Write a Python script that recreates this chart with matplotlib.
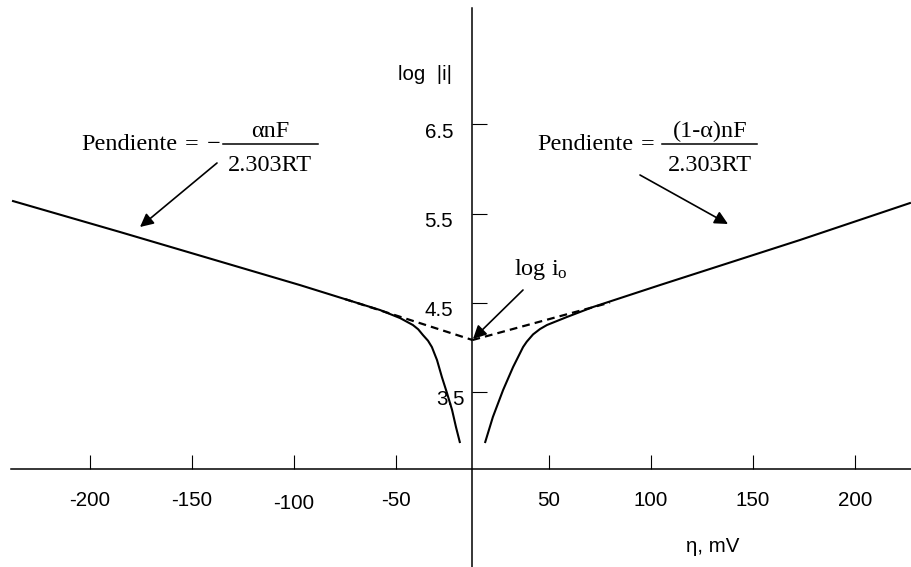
"""Tafel plot: log|i| vs overpotential, with Tafel extrapolations to log i0."""

import numpy as np
import matplotlib

matplotlib.use("Agg")
import matplotlib.pyplot as plt
import matplotlib.transforms as mtransforms

# --- data (x in drawing mV, y axis at 0) ------------------------------------
cath_eta = [-225.7, -172.8, -84.6, -45.3, -35.5, -29.2, -26.6, -24.3, -21.8,
            -19.9, -18.7, -17.4, -15.0, -12.5, -10.0, -8.1, -6.1]
cath_logi = [5.643, 5.293, 4.698, 4.418, 4.328, 4.250, 4.202, 4.138, 4.074,
             4.003, 3.933, 3.858, 3.667, 3.488, 3.297, 3.107, 2.927]

anod_eta = [6.1, 10.0, 15.0, 19.9, 24.8, 26.6, 29.7, 33.1, 36.5, 46.3, 59.1,
            91.9, 160.5, 214.9]
anod_logi = [2.927, 3.219, 3.521, 3.779, 4.003, 4.063, 4.145, 4.205, 4.250,
             4.340, 4.452, 4.698, 5.203, 5.621]

# Tafel extrapolations meeting at log i0
cath_tafel_eta = [-62.5, 0.0]
cath_tafel_logi = [4.541, 4.082]
anod_tafel_eta = [0.0, 67.4]
anod_tafel_logi = [4.082, 4.502]

x_tick_values = [-200, -150, -100, -50, 50, 100, 150, 200]
x_tick_labels = ["-200", "-150", "-100", "-50", "50", "100", "150", "200"]
y_tick_values = [3.5, 4.5, 5.5, 6.5]
y_tick_labels = ["3.5", "4.5", "5.5", "6.5"]

# --- layout ---------------------------------------------------------------
W, H = 911, 567
AXIS_GAP = 12.5      # the drawing leaves a gap around eta = 0
X_AXIS_Y = 2.636     # log|i| level where the eta axis is drawn
SANS = "Liberation Sans"
SERIF = "Liberation Serif"

plt.rcParams.update({
    "mathtext.fontset": "custom",
    "mathtext.rm": SERIF,
    "mathtext.it": SERIF + ":italic",
})


def fpx(x, y):
    """Pixel position in the reference -> figure fraction."""
    return x / W, 1 - y / H


fig = plt.figure(figsize=(W / 100, H / 100), dpi=100)
ax = fig.add_axes([0, 0, 1, 1])
ax.set_xlim(-231.6, 214.95)
ax.set_ylim(1.537, 7.894)

line_kw = dict(color="black", lw=1.5, solid_capstyle="butt",
               solid_joinstyle="round")
ax.plot(cath_eta, cath_logi, **line_kw, zorder=3)
ax.plot(anod_eta, anod_logi, **line_kw, zorder=3)
ax.plot(cath_tafel_eta, cath_tafel_logi, color="black", lw=1.6,
        ls=(0, (3.5, 2.3)), zorder=2)
ax.plot(anod_tafel_eta, anod_tafel_logi, color="black", lw=1.6,
        ls=(0, (3.5, 2.3)), zorder=2)

# axes crossing in the middle
for side in ("top", "right"):
    ax.spines[side].set_visible(False)
ax.spines["left"].set_position(("data", 0))
ax.spines["bottom"].set_position(("data", X_AXIS_Y))
ax.spines["left"].set_bounds(1.537, 7.804)
ax.spines["bottom"].set_bounds(-226.2, 214.95)
for side in ("left", "bottom"):
    ax.spines[side].set_linewidth(1.1)

xpos = [v - np.sign(v) * AXIS_GAP for v in x_tick_values]
ax.set_xticks(xpos)
ax.set_xticklabels(x_tick_labels)
ax.set_yticks(y_tick_values)
ax.set_yticklabels(y_tick_labels)
ax.tick_params(axis="x", direction="in", length=10, width=0.8, pad=15.5,
               labelsize=14.8)
ax.tick_params(axis="y", direction="in", length=11, width=0.8, pad=14,
               labelsize=14.8)
for lab in ax.get_xticklabels() + ax.get_yticklabels():
    lab.set_fontfamily(SANS)

# y labels sit a little below their ticks; "3.5" is shifted right
for lab in ax.get_yticklabels():
    dx = 12 if lab.get_text() == "3.5" else 0
    lab.set_transform(lab.get_transform() + mtransforms.ScaledTranslation(
        dx / 100, -6 / 100, fig.dpi_scale_trans))
for lab in ax.get_xticklabels():
    if lab.get_text() == "-100":
        lab.set_transform(lab.get_transform() + mtransforms.ScaledTranslation(
            0, -3 / 100, fig.dpi_scale_trans))

# axis titles
fig.text(*fpx(398, 80), "log  |i|", family=SANS, fontsize=14.8,
         ha="left", va="baseline")
fig.text(*fpx(713, 546), "η, mV", family=SANS, fontsize=14.8,
         ha="center", va="center")

# slope annotations
fs = 17.5
fig.text(*fpx(81, 150), "Pendiente", family=SERIF, fontsize=fs, va="baseline")
fig.text(*fpx(191.5, 150), "=", family=SERIF, fontsize=fs, ha="center",
         va="baseline")
fig.text(*fpx(213.5, 150), "\u2212", family=SERIF, fontsize=fs, ha="center",
         va="baseline")
fig.text(*fpx(270, 136.7), "αnF", family=SERIF, fontsize=fs, ha="center",
         va="baseline")
fig.text(*fpx(270, 171), "2.303RT", family=SERIF, fontsize=fs, ha="center",
         va="baseline")
fig.add_artist(plt.Line2D([223 / W, 318 / W], [1 - 144 / H] * 2,
                          color="black", lw=1.1))

fig.text(*fpx(537, 150), "Pendiente", family=SERIF, fontsize=fs, va="baseline")
fig.text(*fpx(647.5, 150), "=", family=SERIF, fontsize=fs, ha="center",
         va="baseline")
fig.text(*fpx(710, 136.7), "(1-α)nF", family=SERIF, fontsize=fs,
         ha="center", va="baseline")
fig.text(*fpx(710, 171), "2.303RT", family=SERIF, fontsize=fs, ha="center",
         va="baseline")
fig.add_artist(plt.Line2D([662 / W, 757 / W], [1 - 144 / H] * 2,
                          color="black", lw=1.1))

fig.text(*fpx(514, 275), r"log i$_\mathrm{o}$", family=SERIF, fontsize=fs,
         va="baseline")

arrow_kw = dict(arrowstyle="-|>", color="black", lw=1.2, mutation_scale=20,
                shrinkA=0, shrinkB=0)
for start, tip in [((217, 163), (140, 227)),
                   ((640, 175), (728, 224)),
                   ((523, 290), (473, 339))]:
    ax.annotate("", xy=fpx(*tip), xycoords="figure fraction",
                xytext=fpx(*start), textcoords="figure fraction",
                arrowprops=arrow_kw)

fig.savefig("out.png", dpi=100, facecolor="white")
